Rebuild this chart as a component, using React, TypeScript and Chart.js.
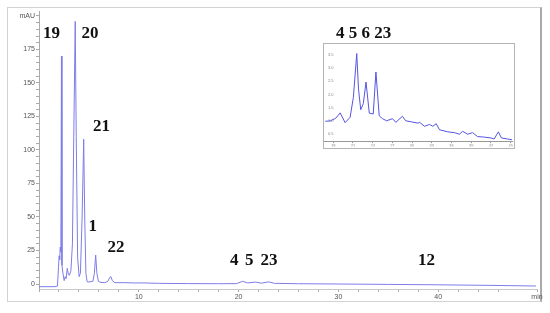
import { useEffect, useRef } from "react";
import { Chart, registerables } from "chart.js";

Chart.register(...registerables);

// ---- main chromatogram (time in min, signal in mAU) ----
const mainTimes = [
  0, 1.6, 1.85, 1.95, 2.02, 2.07, 2.13, 2.19, 2.25, 2.3, 2.4, 2.52, 2.62, 2.72, 2.83, 2.95, 3.05,
  3.2, 3.35, 3.5, 3.63, 3.73, 3.87, 4.02, 4.15, 4.32, 4.48, 4.58, 4.7, 4.82, 5.0, 5.4, 5.55, 5.68,
  5.8, 5.95, 6.2, 6.6, 6.9, 7.1, 7.2, 7.35, 7.6, 8.5, 9.5, 10.5, 12, 15, 18, 19.8, 20.4, 20.9,
  21.7, 22.3, 23.0, 23.6, 26, 30, 35, 40, 45, 49.8,
];
const mainSignal = [
  -2, -2, -1.5, 12, 21, 18, 27.5, 24, 170, 14, 8, 2.5, 5.5, 4, 11.7, 7, 6.5,
  10, 30, 120, 196, 110, 20, 5.5, 8, 50, 108, 50, 8, 1.7, 1.5, 2, 8, 21.6,
  8, 2, 1.2, 1, 2, 5, 5.5, 2.5, 1, 1, 0.8, 0.8, 0.5, 0.3, 0.2, 0.3, 2.0, 0.8,
  1.4, 0.6, 1.6, 0.5, 0.2, 0, -0.3, -0.6, -1.0, -1.5,
];

// ---- inset chromatogram ----
const insetTimes = [
  16.79, 17.6, 18.4, 19.06, 19.81, 20.57, 21.07, 21.58, 21.85, 22.19, 22.58, 22.99, 23.49, 24.09,
  24.5, 25.0, 25.5, 26.12, 27.03, 27.52, 28.53, 29.03, 29.89, 30.89, 31.15, 31.9, 32.66, 33.16,
  33.67, 34.17, 35.42, 36.44, 37.19, 37.69, 38.45, 39.2, 39.96, 41.0, 41.98, 42.48, 43.13, 43.59,
  44.49, 45.2,
];
const insetSignal = [
  0.98, 1.0, 1.1, 1.3, 0.93, 1.13, 1.89, 3.55, 2.2, 1.42, 1.65, 2.47, 1.29, 1.26,
  2.85, 1.19, 1.08, 1.0, 1.08, 0.94, 1.17, 1.0, 0.96, 0.91, 0.94, 0.79, 0.86, 0.79,
  0.89, 0.66, 0.58, 0.55, 0.49, 0.6, 0.49, 0.55, 0.4, 0.38, 0.35, 0.31, 0.58, 0.35,
  0.31, 0.28,
];

// ---- axis definitions ----
const xMin = 0;
const xMax = 49.9;
const xStep = 2;
const xLabelEvery = 10;
const xEndLabel = "min";
const yMin = -3.73;
const yMax = 203.7;
const yStep = 5;
const yLabelEvery = 25;
const yTopLabelValue = 200;
const yUnitLabel = "mAU";

const insetXMin = 16.6;
const insetXMax = 45.2;
const insetXStep = 3;
const insetYMin = 0.21;
const insetYMax = 3.67;
const insetYStep = 0.5;

// ---- peak annotations (text, time, mAU of baseline) ----
const peakTexts = ["19", "20", "21", "1", "22", "4", "5", "23", "12", "4 5 6 23"];
const peakTimes = [0.4, 4.26, 5.41, 4.96, 6.86, 19.14, 20.64, 22.19, 37.98, 29.76];
const peakLevels = [183.6, 183.6, 114.2, 39.6, 23.9, 14.2, 14.2, 14.2, 14.2, 183.4];

const lineColor = "rgb(125,125,232)";
const insetLineColor = "rgb(85,85,225)";

const peakLabelPlugin = {
  id: "peakLabels",
  afterDatasetsDraw(chart: any) {
    const { ctx, scales } = chart;
    ctx.save();
    ctx.font = 'bold 17px "Liberation Serif", "DejaVu Serif", serif';
    ctx.fillStyle = "#111";
    ctx.textAlign = "left";
    ctx.textBaseline = "alphabetic";
    peakTexts.forEach((t, i) => {
      ctx.fillText(t, scales.x.getPixelForValue(peakTimes[i]), scales.y.getPixelForValue(peakLevels[i]));
    });
    ctx.restore();
  },
};

const isMultiple = (v: number, step: number) => Math.abs(v / step - Math.round(v / step)) < 1e-6;

export default function App() {
  const mainRef = useRef<HTMLCanvasElement>(null);
  const insetRef = useRef<HTMLCanvasElement>(null);

  useEffect(() => {
    const main = new Chart(mainRef.current!, {
      type: "line",
      data: {
        datasets: [
          {
            data: mainTimes.map((t, i) => ({ x: t, y: mainSignal[i] })),
            borderColor: lineColor,
            borderWidth: 1,
            pointRadius: 0,
            tension: 0,
            fill: false,
          },
        ],
      },
      options: {
        responsive: false,
        animation: false,
        events: [],
        layout: { padding: { left: 0, top: 11, right: 13, bottom: 0 } },
        plugins: { legend: { display: false }, tooltip: { enabled: false } },
        scales: {
          x: {
            type: "linear",
            min: xMin,
            max: xMax,
            afterFit: (s: any) => {
              s.height = 24;
            },
            grid: { drawOnChartArea: false, drawTicks: true, tickLength: 3, color: "#aaa" },
            border: { display: true, color: "#c8c8c8", dash: [1, 1] },
            ticks: {
              stepSize: xStep,
              autoSkip: false,
              maxRotation: 0,
              padding: 1,
              color: "#555",
              font: { family: '"Liberation Sans", Arial, sans-serif', size: 7 },
              callback: (v: any) => {
                const n = Number(v);
                if (Math.abs(n - xMax) < 1e-6) return xEndLabel;
                if (n > 0 && isMultiple(n, xLabelEvery)) return String(n);
                return "";
              },
            },
          },
          y: {
            type: "linear",
            min: yMin,
            max: yMax,
            afterFit: (s: any) => {
              s.width = 39;
            },
            grid: { drawOnChartArea: false, drawTicks: true, tickLength: 3, color: "#aaa" },
            border: { display: true, color: "#aaa", dash: [1, 1] },
            ticks: {
              stepSize: yStep,
              includeBounds: false,
              autoSkip: false,
              padding: 1,
              color: "#555",
              font: { family: '"Liberation Sans", Arial, sans-serif', size: 7 },
              callback: (v: any) => {
                const n = Number(v);
                if (Math.abs(n - yTopLabelValue) < 1e-6) return yUnitLabel;
                if (n >= 0 && isMultiple(n, yLabelEvery)) return String(n);
                return "";
              },
            },
          },
        },
      },
      plugins: [peakLabelPlugin],
    } as any);

    const inset = new Chart(insetRef.current!, {
      type: "line",
      data: {
        datasets: [
          {
            data: insetTimes.map((t, i) => ({ x: t, y: insetSignal[i] })),
            borderColor: insetLineColor,
            borderWidth: 1,
            pointRadius: 0,
            tension: 0,
            fill: false,
          },
        ],
      },
      options: {
        responsive: false,
        animation: false,
        events: [],
        layout: { padding: { left: 0, top: 0, right: 1, bottom: 0 } },
        plugins: { legend: { display: false }, tooltip: { enabled: false } },
        scales: {
          x: {
            type: "linear",
            min: insetXMin,
            max: insetXMax,
            afterFit: (s: any) => {
              s.height = 5;
            },
            grid: { drawOnChartArea: false, drawTicks: true, tickLength: 1.5, color: "#999" },
            border: { display: true, color: "#999" },
            ticks: {
              stepSize: insetXStep,
              includeBounds: false,
              autoSkip: false,
              maxRotation: 0,
              padding: 0,
              color: "#888",
              font: { family: '"Liberation Sans", Arial, sans-serif', size: 4 },
            },
          },
          y: {
            type: "linear",
            min: insetYMin,
            max: insetYMax,
            afterFit: (s: any) => {
              s.width = 0;
            },
            grid: { drawOnChartArea: false, drawTicks: false },
            border: { display: false },
            ticks: {
              stepSize: insetYStep,
              includeBounds: false,
              autoSkip: false,
              mirror: true,
              padding: 4,
              color: "#888",
              font: { family: '"Liberation Sans", Arial, sans-serif', size: 4 },
            },
          },
        },
      },
    } as any);

    return () => {
      main.destroy();
      inset.destroy();
    };
  }, []);

  return (
    <div style={{ position: "fixed", left: 0, top: 0, width: 550, height: 313, background: "#fff" }}>
      <div
        style={{
          position: "absolute",
          left: 7,
          top: 7,
          width: 535,
          height: 295,
          boxSizing: "border-box",
          border: "1px solid #d2d2d2",
          borderRight: "2px solid #a9a9a9",
        }}
      />
      <canvas
        ref={mainRef}
        width={550}
        height={313}
        style={{ position: "absolute", left: 0, top: 0, width: 550, height: 313 }}
      />
      <div
        style={{
          position: "absolute",
          left: 323,
          top: 43,
          width: 192,
          height: 106,
          boxSizing: "border-box",
          border: "1px solid #b4b4b4",
          background: "#fff",
        }}
      />
      <canvas
        ref={insetRef}
        width={189}
        height={104}
        style={{ position: "absolute", left: 324, top: 44, width: 189, height: 104 }}
      />
    </div>
  );
}
